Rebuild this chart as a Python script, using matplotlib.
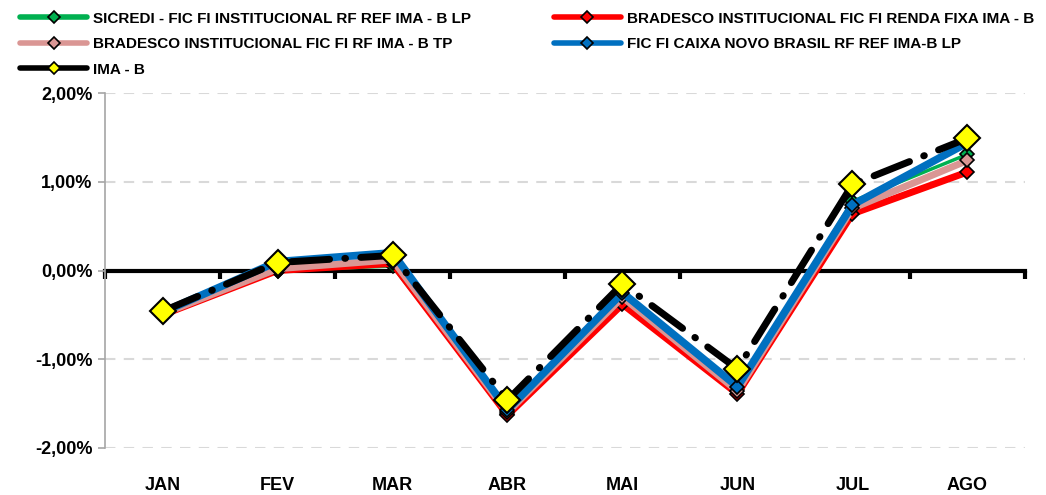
import matplotlib.pyplot as plt
import matplotlib.transforms as mtransforms
from matplotlib.lines import Line2D
import numpy as np

plt.rcParams['font.family'] = ['Liberation Sans', 'DejaVu Sans']
plt.rcParams['font.weight'] = 'bold'

# months
months = ['JAN', 'FEV', 'MAR', 'ABR', 'MAI', 'JUN', 'JUL', 'AGO']

# monthly returns in %
sicredi = [-0.50, 0.00, 0.05, -1.62, -0.28, -1.33, 0.78, 1.31]
bradesco_rf = [-0.50, 0.00, 0.08, -1.63, -0.38, -1.39, 0.64, 1.11]
bradesco_tp = [-0.49, 0.02, 0.12, -1.60, -0.30, -1.36, 0.70, 1.24]
caixa = [-0.47, 0.10, 0.20, -1.57, -0.25, -1.31, 0.74, 1.44]
ima_b = [-0.46, 0.09, 0.17, -1.46, -0.15, -1.11, 0.97, 1.49]

names = ['SICREDI - FIC FI INSTITUCIONAL RF REF IMA - B LP',
         'BRADESCO INSTITUCIONAL FIC FI RENDA FIXA IMA - B',
         'BRADESCO INSTITUCIONAL FIC FI RF IMA - B TP',
         'FIC FI CAIXA NOVO BRASIL RF REF IMA-B LP',
         'IMA - B']
colors = ['#00b050', '#ff0000', '#da9694', '#0070c0', 'black']

x = np.arange(len(months))

fig = plt.figure(figsize=(10.46, 4.95), dpi=100)
ax = fig.add_axes([0.1004, 0.095, 0.8795, 0.717])

# gridlines
for v in [-2, -1, 1, 2]:
    ax.axhline(v, color='#d9d9d9', lw=1.5, ls=(0, (5, 4)), zorder=0)

ax.plot(x, sicredi, color=colors[0], lw=2.5, marker='D', ms=7,
        mfc=colors[0], mec='black', mew=1.2, zorder=2)
ax.plot(x, bradesco_rf, color=colors[1], lw=5, marker='D', ms=7,
        mfc=colors[1], mec='black', mew=1.2, zorder=3)
ax.plot(x, bradesco_tp, color=colors[2], lw=5, marker='D', ms=7,
        mfc=colors[2], mec='black', mew=1.2, zorder=4)
ax.plot(x, caixa, color=colors[3], lw=5.5, marker='D', ms=7,
        mfc=colors[3], mec='black', mew=1.2, zorder=5)
ax.plot(x, ima_b, color='black', lw=5, marker='D', ms=13,
        mfc='#ffff00', mec='black', mew=1.5, zorder=6,
        dashes=(5.5, 2.2, 0.1, 2.2), dash_capstyle='round')

ax.set_xlim(-0.5, len(months) - 0.5)
ax.set_ylim(-2, 2)

# axis at zero with boundary ticks
for s in ['top', 'right']:
    ax.spines[s].set_visible(False)
ax.spines['bottom'].set_position(('data', 0))
ax.spines['bottom'].set_linewidth(3)
ax.spines['bottom'].set_zorder(1)
ax.spines['left'].set_color('#a6a6a6')
ax.spines['left'].set_linewidth(1.2)
ax.set_xticks(np.arange(len(months) + 1) - 0.5)
ax.set_xticklabels([])
ax.tick_params(axis='x', direction='out', length=6, width=3, color='black')
trans = mtransforms.blended_transform_factory(ax.transData, ax.transAxes)
for i, m in enumerate(months):
    ax.text(i, -0.105, m, transform=trans, ha='center', va='center',
            fontsize=13, fontweight='bold')

ax.set_yticks([-2, -1, 0, 1, 2])
ax.set_yticklabels(['-2,00%', '-1,00%', '0,00%', '1,00%', '2,00%'],
                   fontsize=13, fontweight='bold')
ax.tick_params(axis='y', direction='out', length=5, width=1.2, color='#a6a6a6', pad=4)

# legend handles: solid thick line with small diamond
mfcs = colors[:4] + ['#ffff00']
handles = [Line2D([], [], color=c, lw=4, solid_capstyle='round', marker='D', ms=6,
                  mfc=f, mec='black', mew=1.2) for c, f in zip(colors, mfcs)]
order = [0, 2, 4, 1, 3]
leg = fig.legend([handles[i] for i in order], [names[i] for i in order], ncol=2,
                 loc='upper left', bbox_to_anchor=(0.006, 1.004),
                 frameon=False, fontsize=11, handlelength=4.4, columnspacing=5.4,
                 labelspacing=0.75, handletextpad=0.4)
for t in leg.get_texts():
    t.set_fontweight('bold')

fig.savefig('out.png', dpi=100)
